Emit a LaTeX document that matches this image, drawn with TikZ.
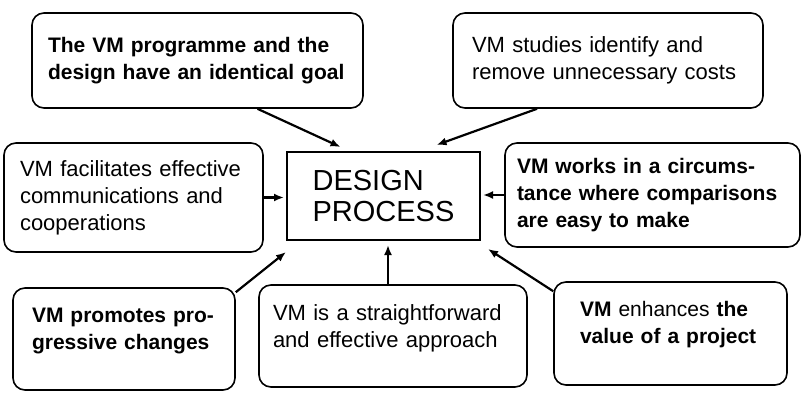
\documentclass[tikz,border=0pt]{standalone}
\usepackage{fontspec}
\setmainfont{Liberation Sans}
\usetikzlibrary{arrows.meta,calc,positioning}
\hyphenpenalty=10000

\begin{document}
\begin{tikzpicture}[x=1pt, y=1pt,
  idea/.style={draw, line width=1.6pt, rounded corners=12pt, inner sep=0pt, align=left, font=\fontsize{22}{27}\selectfont},
  strong/.style={idea, font=\fontsize{21}{27}\selectfont\bfseries},
  core/.style={draw, line width=2pt, inner sep=0pt, align=left, minimum width=193pt, minimum height=88pt, font=\fontsize{29}{31}\selectfont},
  arr/.style={-{Latex[length=10pt,width=8pt]}, line width=2.2pt}
]
  \useasboundingbox[fill=white] (0,0) rectangle (806,400);

  % Centre box
  \node[core] (design) at (383.5,204) {DESIGN\\PROCESS};

  % Top row
  \node[strong, minimum width=331pt, minimum height=95pt, text width=299pt] (goal) at (197.5,339.5)
    {The VM programme and the\\design have an identical goal};
  \node[idea, minimum width=310pt, minimum height=95pt, text width=272pt] (costs) at (608,339.5)
    {VM studies identify and\\remove unnecessary costs};

  % Middle row
  \node[idea, minimum width=259pt, minimum height=109pt, text width=227pt] (comm) at (133.5,202.5)
    {VM facilitates effective\\communications and\\cooperations};
  \node[strong, minimum width=295pt, minimum height=104pt, text width=271pt] (circ) at (652.5,205)
    {VM works in a circums-\\tance where comparisons\\are easy to make};

  % Bottom row
  \node[strong, minimum width=222pt, minimum height=102pt, text width=184pt, text depth=48pt] (prog) at (124,61)
    {VM promotes pro-\\gressive changes};
  \node[idea, minimum width=268pt, minimum height=102pt, text width=240pt, text depth=46pt] (straight) at (393,64)
    {VM is a straightforward\\and effective approach};
  \node[strong, minimum width=233pt, minimum height=103pt, text width=181pt, text depth=50pt] (value) at (670.5,66.5)
    {VM \mdseries enhances \bfseries the\\value of a project};

  % Arrows
  \draw[arr] ([xshift=60pt]goal.south) -- ([xshift=-43pt,yshift=4pt]design.north);
  \draw[arr] ([xshift=-71pt]costs.south) -- ([xshift=53pt,yshift=6pt]design.north);
  \draw[arr, shorten >=2pt] (comm.east) -- (comm.east -| design.west);
  \draw[arr, shorten >=2pt] (circ.west) -- (circ.west -| design.east);
  \draw[arr] ([yshift=-5pt]prog.north east) -- ([yshift=-11pt]design.south west);
  \draw[arr] ([xshift=-5pt]straight.north) -- ([xshift=4.5pt,yshift=-4pt]design.south);
  \draw[arr] ([yshift=-10pt]value.north west) -- ([xshift=7pt,yshift=-8pt]design.south east);
\end{tikzpicture}
\end{document}
